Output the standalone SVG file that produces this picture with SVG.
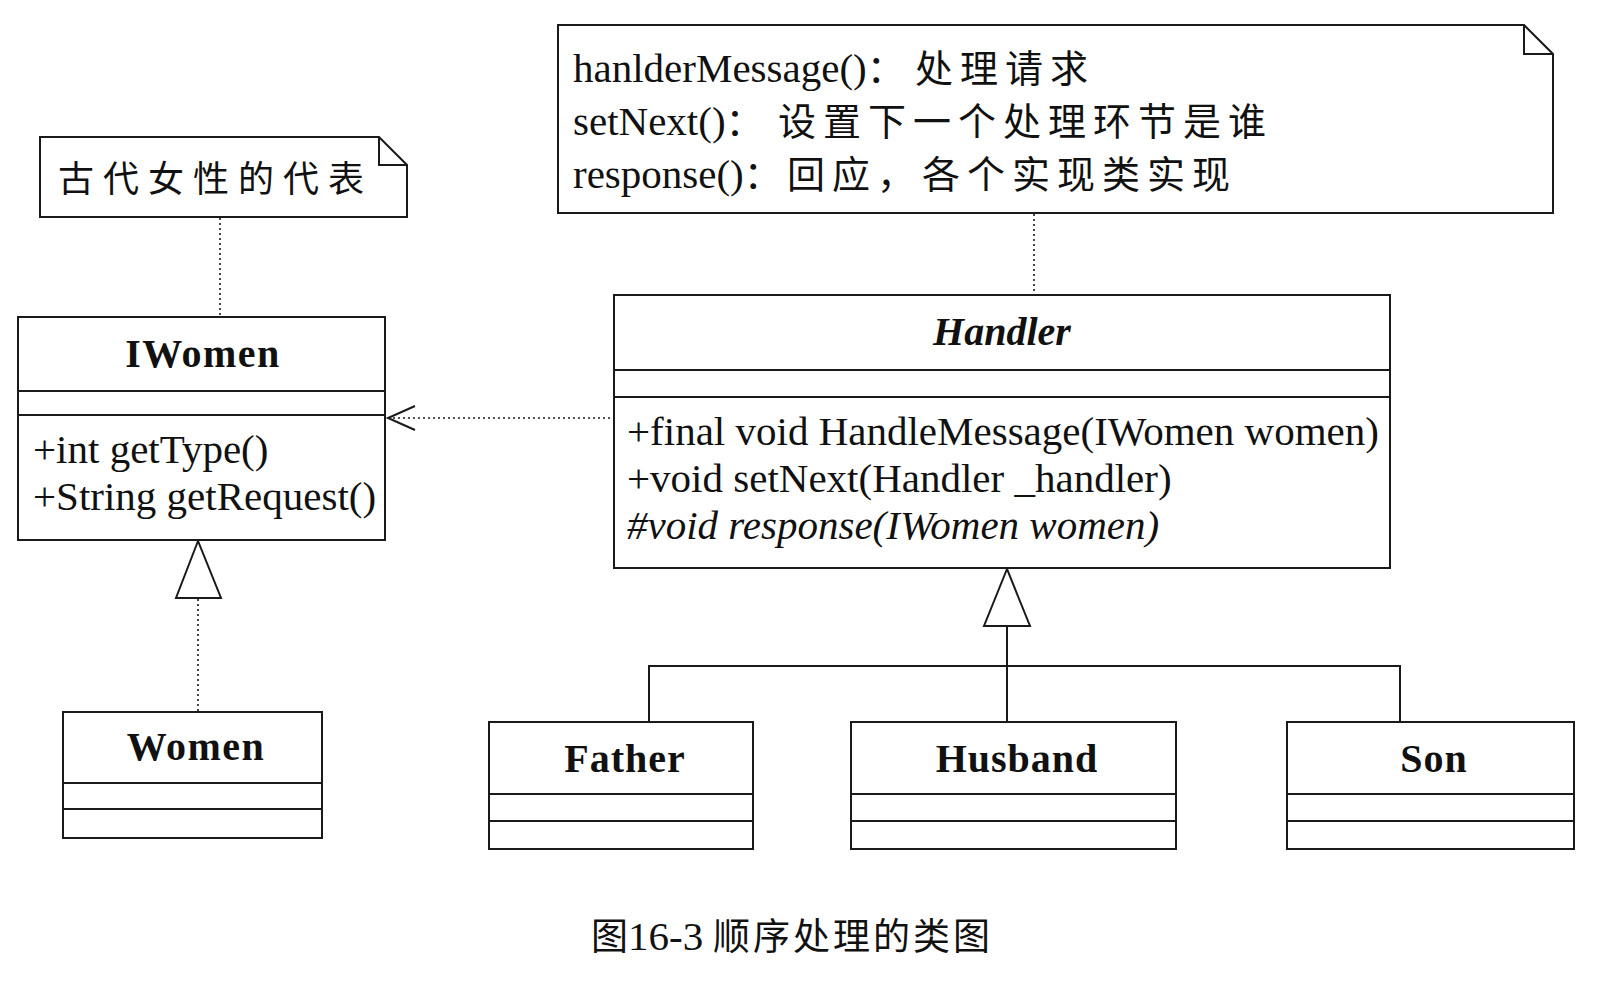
<svg xmlns="http://www.w3.org/2000/svg" width="1606" height="982" viewBox="0 0 1606 982">
<style>
.box{fill:#fff;stroke:#1a1a1a;stroke-width:2}
.ln{fill:none;stroke:#1a1a1a;stroke-width:2}
.dot{fill:none;stroke:#1a1a1a;stroke-width:1.6;stroke-dasharray:2 3}
.t{font-family:"Liberation Serif","Noto Sans CJK SC",serif;fill:#111;font-size:41px}
.title{font-family:"Liberation Serif",serif;fill:#111;font-weight:bold;font-size:40px;text-anchor:middle}
.cjk{font-family:"Noto Sans CJK SC",sans-serif;fill:#111}
</style>
<rect width="1606" height="982" fill="#fff"/>

<g id="connectors">
  <line class="dot" x1="220" y1="218" x2="220" y2="316"/>
  <line class="dot" x1="1034" y1="214" x2="1034" y2="294"/>
  <line class="dot" x1="388" y1="418" x2="614" y2="418"/>
  <polyline class="ln" points="415,406 388,418 415,430"/>
  <line class="dot" x1="198" y1="599" x2="198" y2="711"/>
  <polygon class="box" points="198,541 176,598 221,598"/>
  <polyline class="ln" points="649,722 649,666 1400,666 1400,722"/>
  <line class="ln" x1="1007" y1="626" x2="1007" y2="722"/>
  <polygon class="box" points="1007,569 984,626 1030,626"/>
</g>

<g id="note-women">
  <path class="box" d="M40,137 H379 L407,165 V217 H40 Z"/>
  <path class="ln" d="M379,137 V165 H407"/>
  <text class="cjk" x="58" y="192" font-size="36" letter-spacing="9">古代女性的代表</text>
</g>

<g id="note-handler">
  <path class="box" d="M558,25 H1524 L1553,54 V213 H558 Z"/>
  <path class="ln" d="M1524,25 V54 H1553"/>
  <text class="t" x="573" y="82">hanlderMessage()<tspan class="cjk" font-size="38">：</tspan><tspan class="cjk" x="915" font-size="38" letter-spacing="7">处理请求</tspan></text>
  <text class="t" x="573" y="135">setNext()<tspan class="cjk" font-size="38">：</tspan><tspan class="cjk" x="778" font-size="38" letter-spacing="7">设置下一个处理环节是谁</tspan></text>
  <text class="t" x="573" y="188">response()<tspan class="cjk" font-size="38">：</tspan><tspan class="cjk" x="787" font-size="38" letter-spacing="7">回应，各个实现类实现</tspan></text>
</g>

<g id="IWomen">
  <rect class="box" x="18" y="317" width="367" height="223"/>
  <line class="ln" x1="18" y1="391" x2="385" y2="391"/>
  <line class="ln" x1="18" y1="415" x2="385" y2="415"/>
  <text class="title" x="203" y="367" letter-spacing="1.5">IWomen</text>
  <text class="t" x="33" y="463">+int getType()</text>
  <text class="t" x="33" y="510">+String getRequest()</text>
</g>

<g id="Handler">
  <rect class="box" x="614" y="295" width="776" height="273"/>
  <line class="ln" x1="614" y1="370" x2="1390" y2="370"/>
  <line class="ln" x1="614" y1="397" x2="1390" y2="397"/>
  <text class="title" x="1002" y="345" font-size="44" font-style="italic">Handler</text>
  <text class="t" x="627" y="445">+final void HandleMessage(IWomen women)</text>
  <text class="t" x="627" y="492">+void setNext(Handler _handler)</text>
  <text class="t" x="627" y="539" font-style="italic">#void response(IWomen women)</text>
</g>

<g id="Women">
  <rect class="box" x="63" y="712" width="259" height="126"/>
  <line class="ln" x1="63" y1="783" x2="322" y2="783"/>
  <line class="ln" x1="63" y1="809" x2="322" y2="809"/>
  <text class="title" x="196" y="760" letter-spacing="1.5">Women</text>
</g>

<g id="Father">
  <rect class="box" x="489" y="722" width="264" height="127"/>
  <line class="ln" x1="489" y1="794" x2="753" y2="794"/>
  <line class="ln" x1="489" y1="821" x2="753" y2="821"/>
  <text class="title" x="625" y="772" letter-spacing="1">Father</text>
</g>

<g id="Husband">
  <rect class="box" x="851" y="722" width="325" height="127"/>
  <line class="ln" x1="851" y1="794" x2="1176" y2="794"/>
  <line class="ln" x1="851" y1="821" x2="1176" y2="821"/>
  <text class="title" x="1017" y="772" letter-spacing="1">Husband</text>
</g>

<g id="Son">
  <rect class="box" x="1287" y="722" width="287" height="127"/>
  <line class="ln" x1="1287" y1="794" x2="1574" y2="794"/>
  <line class="ln" x1="1287" y1="821" x2="1574" y2="821"/>
  <text class="title" x="1434" y="772" letter-spacing="1">Son</text>
</g>

<g id="caption">
  <text class="cjk" x="591" y="950" font-size="37">图</text>
  <text class="t" x="628" y="950" font-size="38">16-3</text>
  <text class="cjk" x="713" y="950" font-size="37" letter-spacing="3">顺序处理的类图</text>
</g>
</svg>
